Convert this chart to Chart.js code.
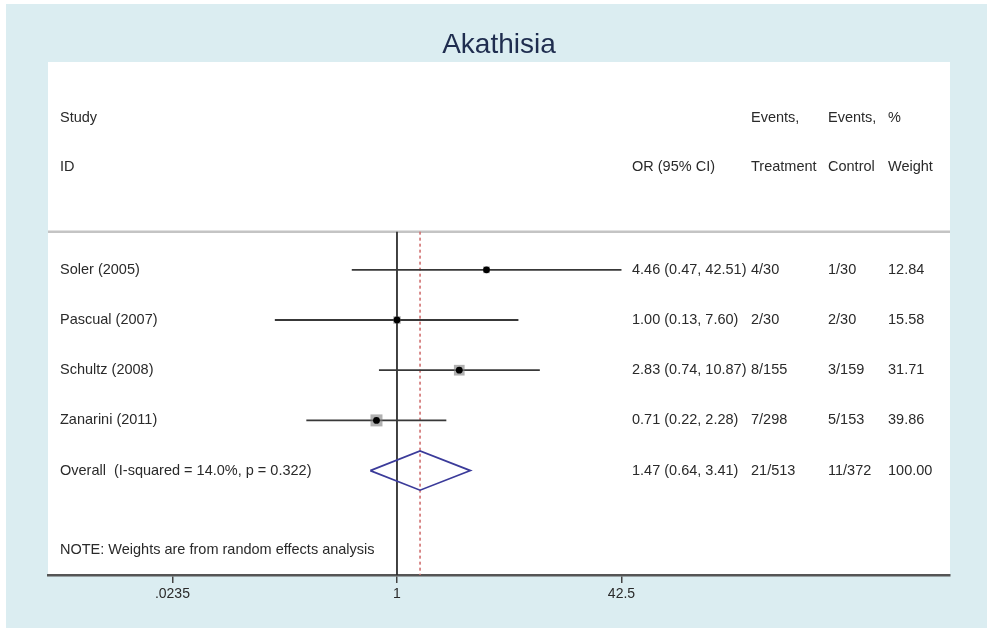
<!DOCTYPE html>
<html>
<head>
<meta charset="utf-8">
<title>Akathisia</title>
<script src="https://cdn.jsdelivr.net/npm/chart.js@4.4.0/dist/chart.umd.min.js"></script>
<style>
	html, body { margin: 0; padding: 0; background: #fff; }
	#wrap { width: 987px; height: 628px; }
</style>
</head>
<body>
<div id="wrap"><canvas id="myChart" width="987" height="628"></canvas></div>
<script>
// study rows
const studies = ['Soler (2005)', 'Pascual (2007)', 'Schultz (2008)', 'Zanarini (2011)'];
const orValues = [4.46, 1.00, 2.83, 0.71];
const ciLow = [0.47, 0.13, 0.74, 0.22];
const ciHigh = [42.51, 7.60, 10.87, 2.28];
const eventsTreatment = ['4/30', '2/30', '8/155', '7/298'];
const eventsControl = ['1/30', '2/30', '3/159', '5/153'];
const weights = [12.84, 15.58, 31.71, 39.86];

// pooled row
const overallLabel = 'Overall  (I-squared = 14.0%, p = 0.322)';
const overall = [1.47, 0.64, 3.41];   // OR, low, high
const overallTreatment = '21/513';
const overallControl = '11/372';
const overallWeight = 100.00;

// axis
const tickValues = [0.0235, 1, 42.5];
const tickLabels = ['.0235', '1', '42.5'];

const X_MIN = 0.002941, X_MAX = 10270;
const ROW_SEP = 0.24, ROW_BOTTOM = 7.08;
const FONT = '"Liberation Sans", Arial, Helvetica, sans-serif';

function fmt(v) { return v.toFixed(2); }

let datasets = [];

// confidence interval lines
studies.forEach(function(s, i) {
	datasets.push({
		type: 'line',
		data: [{ x: ciLow[i], y: i + 1 }, { x: ciHigh[i], y: i + 1 }],
		borderColor: '#383838',
		borderWidth: 1.8,
		pointRadius: 0,
		order: 3
	});
});

// weight boxes (side ~ sqrt of weight)
datasets.push({
	type: 'scatter',
	data: orValues.map(function(v, i) { return { x: v, y: i + 1 }; }),
	pointStyle: 'rect',
	pointRadius: weights.map(function(w) { return 1.9 * Math.sqrt(w) / Math.SQRT2; }),
	backgroundColor: 'rgba(125,125,125,0.6)',
	borderWidth: 0,
	order: 2
});

// point estimates
datasets.push({
	type: 'scatter',
	data: orValues.map(function(v, i) { return { x: v, y: i + 1 }; }),
	pointStyle: 'circle',
	pointRadius: 3.4,
	backgroundColor: '#000',
	borderWidth: 0,
	order: 0
});

// overall diamond
const dRow = studies.length + 1;
datasets.push({
	type: 'line',
	data: [
		{ x: overall[1], y: dRow },
		{ x: overall[0], y: dRow - 0.39 },
		{ x: overall[2], y: dRow },
		{ x: overall[0], y: dRow + 0.39 },
		{ x: overall[1], y: dRow }
	],
	borderColor: '#3b3b9a',
	borderWidth: 1.7,
	pointRadius: 0,
	tension: 0,
	order: 1
});

// null line
datasets.push({
	type: 'line',
	data: [{ x: 1, y: ROW_SEP }, { x: 1, y: ROW_BOTTOM }],
	borderColor: '#2e2e2e',
	borderWidth: 1.8,
	pointRadius: 0,
	order: 4
});

// overall estimate line
datasets.push({
	type: 'line',
	data: [{ x: overall[0], y: ROW_SEP }, { x: overall[0], y: ROW_BOTTOM }],
	borderColor: '#d07070',
	borderWidth: 1.6,
	borderDash: [3, 3],
	pointRadius: 0,
	order: 5
});

// header separator
datasets.push({
	type: 'line',
	data: [{ x: X_MIN, y: ROW_SEP }, { x: X_MAX, y: ROW_SEP }],
	borderColor: '#c4c4c4',
	borderWidth: 2.5,
	pointRadius: 0,
	order: 6
});

const backgroundPlugin = {
	id: 'background',
	beforeDraw: function(chart) {
		const ctx = chart.ctx;
		const a = chart.chartArea;
		ctx.save();
		ctx.fillStyle = '#ffffff';
		ctx.fillRect(0, 0, chart.width, chart.height);
		ctx.fillStyle = '#dbedf1';
		ctx.fillRect(6, 4, chart.width - 6, chart.height - 4);
		ctx.fillStyle = '#ffffff';
		ctx.fillRect(a.left, a.top, a.right - a.left, a.bottom - a.top);
		ctx.restore();
	}
};

const tablePlugin = {
	id: 'table',
	afterDatasetsDraw: function(chart) {
		const ctx = chart.ctx;
		const y = chart.scales.y;
		const colLabel = 60, colOR = 632, colT = 751, colC = 828, colW = 888;

		function txt(s, x, row) {
			ctx.fillText(s, x, y.getPixelForValue(row));
		}

		ctx.save();
		ctx.font = '14.5px ' + FONT;
		ctx.fillStyle = '#2a2a2a';
		ctx.textBaseline = 'middle';
		ctx.textAlign = 'left';

		txt('Study', colLabel, -2.03);
		txt('ID', colLabel, -1.05);
		txt('OR (95% CI)', colOR, -1.05);
		txt('Events,', colT, -2.03);
		txt('Treatment', colT, -1.05);
		txt('Events,', colC, -2.03);
		txt('Control', colC, -1.05);
		txt('%', colW, -2.03);
		txt('Weight', colW, -1.05);

		studies.forEach(function(s, i) {
			const r = i + 1;
			txt(s, colLabel, r);
			txt(fmt(orValues[i]) + ' (' + fmt(ciLow[i]) + ', ' + fmt(ciHigh[i]) + ')', colOR, r);
			txt(eventsTreatment[i], colT, r);
			txt(eventsControl[i], colC, r);
			txt(fmt(weights[i]), colW, r);
		});

		txt(overallLabel, colLabel, dRow);
		txt(fmt(overall[0]) + ' (' + fmt(overall[1]) + ', ' + fmt(overall[2]) + ')', colOR, dRow);
		txt(overallTreatment, colT, dRow);
		txt(overallControl, colC, dRow);
		txt(fmt(overallWeight), colW, dRow);

		txt('NOTE: Weights are from random effects analysis', colLabel, 6.58);
		ctx.restore();
	}
};

new Chart(document.getElementById('myChart').getContext('2d'), {
	data: { datasets: datasets },
	options: {
		responsive: false,
		animation: false,
		layout: { padding: { left: 48, right: 37, top: 0, bottom: 0 } },
		plugins: {
			legend: { display: false },
			tooltip: { enabled: false },
			title: {
				display: true,
				text: 'Akathisia',
				color: '#1f2d4f',
				font: { family: FONT, size: 28, weight: 'normal' },
				padding: { top: 28, bottom: 0.4 }
			}
		},
		scales: {
			x: {
				type: 'logarithmic',
				min: X_MIN,
				max: X_MAX,
				afterBuildTicks: function(axis) {
					axis.ticks = tickValues.map(function(v) { return { value: v }; });
				},
				afterFit: function(axis) { axis.height = 53; },
				ticks: {
					autoSkip: false,
					maxRotation: 0,
					padding: 3,
					color: '#2a2a2a',
					font: { family: FONT, size: 14 },
					callback: function(val, idx) { return tickLabels[idx]; }
				},
				grid: {
					drawOnChartArea: false,
					drawTicks: true,
					tickLength: 8,
					color: '#444',
					lineWidth: 1.5
				},
				border: { display: true, color: '#555', width: 2.5 }
			},
			y: {
				type: 'linear',
				reverse: true,
				min: -3.14,
				max: ROW_BOTTOM,
				display: false
			}
		}
	},
	plugins: [backgroundPlugin, tablePlugin]
});
</script>
</body>
</html>
